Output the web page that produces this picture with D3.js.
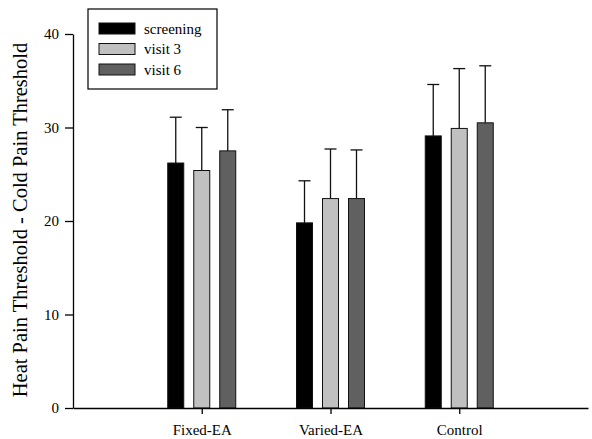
<!DOCTYPE html>
<html>
<head>
<meta charset="utf-8">
<script src="https://cdn.jsdelivr.net/npm/d3@7"></script>
<style>
  body { margin: 0; background: #fff; }
  svg text { font-family: "Liberation Serif", "Times New Roman", serif !important; }
</style>
</head>
<body>
<div id="chart_div"></div>
<script>
// groups on the x axis
var groups = ["Fixed-EA", "Varied-EA", "Control"];
var series = ["screening", "visit 3", "visit 6"];
var colors = ["#000000", "#c0c0c0", "#606060"];

// means per series (one value per group)
var screening = [26.2, 19.8, 29.1];
var visit3 = [25.4, 22.4, 29.9];
var visit6 = [27.5, 22.4, 30.5];
// upper end of error bars
var screeningErr = [31.1, 24.3, 34.6];
var visit3Err = [30.0, 27.7, 36.3];
var visit6Err = [31.9, 27.6, 36.6];

var yTicks = [0, 10, 20, 30, 40];

var means = [screening, visit3, visit6];
var errs = [screeningErr, visit3Err, visit6Err];

var margin = {top: 34, right: 4, bottom: 31, left: 73},
    width = 592 - margin.left - margin.right,
    height = 439 - margin.top - margin.bottom;

var svg = d3.select("#chart_div").append("svg")
    .attr("width", 592)
    .attr("height", 439)
  .append("g")
    .attr("transform", "translate(" + margin.left + "," + margin.top + ")");

// groups sit at 1,2,3 on a 0..4 axis
var x = d3.scaleLinear().domain([0, 4]).range([0, width]);
var y = d3.scaleLinear().domain([0, 40]).range([height, 0]);

var barW = 16, step = 26;

var data = [];
groups.forEach(function(g, gi) {
  series.forEach(function(s, si) {
    data.push({g: gi, s: si, v: means[si][gi], e: errs[si][gi]});
  });
});

function barX(d) { return x(d.g + 1) + (d.s - 1) * step - barW / 2; }

// error bars first, bars drawn on top
var eb = svg.selectAll(".err").data(data).enter().append("g").attr("class", "err");
eb.append("line")
    .attr("x1", function(d) { return barX(d) + barW / 2; })
    .attr("x2", function(d) { return barX(d) + barW / 2; })
    .attr("y1", function(d) { return y(d.v); })
    .attr("y2", function(d) { return y(d.e); })
    .attr("stroke", "#111").attr("stroke-width", 1.3);
eb.append("line")
    .attr("x1", function(d) { return barX(d) + barW / 2 - 6; })
    .attr("x2", function(d) { return barX(d) + barW / 2 + 6; })
    .attr("y1", function(d) { return y(d.e); })
    .attr("y2", function(d) { return y(d.e); })
    .attr("stroke", "#111").attr("stroke-width", 1.3);

svg.selectAll(".bar").data(data).enter().append("rect")
    .attr("class", "bar")
    .attr("x", barX)
    .attr("width", barW)
    .attr("y", function(d) { return y(d.v); })
    .attr("height", function(d) { return height - y(d.v); })
    .attr("fill", function(d) { return colors[d.s]; })
    .attr("stroke", "#111")
    .attr("stroke-width", 1);

// axes
var yAxis = svg.append("g")
    .call(d3.axisLeft(y).tickValues(yTicks).tickSize(8).tickPadding(6).tickSizeOuter(0));
var xAxis = svg.append("g")
    .attr("transform", "translate(0," + height + ")")
    .call(d3.axisBottom(x).tickValues([1, 2, 3]).tickSize(6).tickPadding(10).tickSizeOuter(0)
      .tickFormat(function(d) { return groups[d - 1]; }));

[yAxis, xAxis].forEach(function(a) {
  a.attr("font-family", null).attr("font-size", null);
  a.selectAll("text").style("font-size", "15px").attr("fill", "#000");
  a.selectAll("line,path").attr("stroke", "#000").attr("stroke-width", 1.3);
});

svg.append("text")
    .attr("transform", "rotate(-90)")
    .attr("x", -height / 2 + 1)
    .attr("y", -46)
    .attr("text-anchor", "middle")
    .style("font-size", "20.5px")
    .text("Heat Pain Threshold - Cold Pain Threshold");

// legend
var lg = svg.append("g").attr("transform", "translate(" + (88 - margin.left) + "," + (9 - margin.top) + ")");
lg.append("rect").attr("width", 129).attr("height", 80)
    .attr("fill", "#fff").attr("stroke", "#000").attr("stroke-width", 1.2);
series.forEach(function(s, i) {
  lg.append("rect")
      .attr("x", 11).attr("y", 14 + i * 20.5)
      .attr("width", 36).attr("height", 11)
      .attr("fill", colors[i]).attr("stroke", "#111");
  lg.append("text")
      .attr("x", 56).attr("y", 24.5 + i * 20.5)
      .style("font-size", "15px")
      .text(s);
});
</script>
</body>
</html>
